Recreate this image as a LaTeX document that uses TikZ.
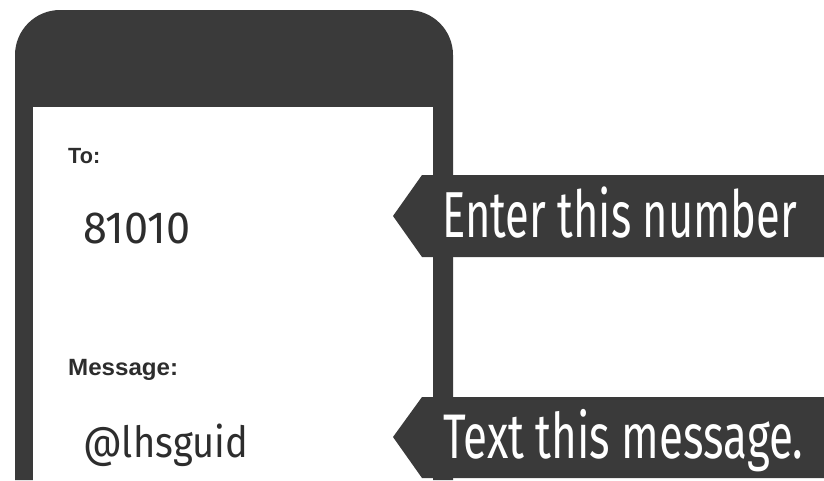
\documentclass[tikz,border=0pt]{standalone}
\usepackage{fontspec}
\usepackage{graphicx}
\setmainfont{Fira Sans}
\newfontfamily\labelfont{Liberation Sans}
\definecolor{phonegray}{RGB}{58,58,58}
\definecolor{ink}{RGB}{45,45,45}
\tikzset{
  txt/.style={anchor=base west, inner sep=0pt, text=ink},
  bannertxt/.style={anchor=base west, inner sep=0pt, text=white},
  bannerfill/.style={fill=phonegray}
}
\begin{document}
\begin{tikzpicture}[x=1pt,y=-1pt]
\useasboundingbox (0,0) rectangle (824,480);
% phone frame
\fill[phonegray] (15,480) [rounded corners=45pt] -- (15,10) -- (453,10) [sharp corners] -- (453,480) -- cycle;
\fill[white] (33,107) rectangle (433,481);
% screen texts
\node[txt] (to) at (68,163) {\resizebox{32pt}{\height}{\labelfont\bfseries\fontsize{22}{22}\selectfont To:}};
\node[txt] (num) at (83,243) {\resizebox{107pt}{\height}{\fontsize{45}{45}\selectfont 81010}};
\node[txt] (msg) at (68,375) {\resizebox{110pt}{\height}{\labelfont\bfseries\fontsize{23.5}{23.5}\selectfont Message:}};
\node[txt] (handle) at (83,457) {\resizebox{165pt}{\height}{\fontsize{43}{43}\selectfont @lhsguid}};
% banners
\fill[bannerfill] (824,175) -- (422,175) -- (393,216) -- (422,257) -- (824,257) -- cycle;
\fill[bannerfill] (824,397) -- (422,397) -- (393,437) -- (422,478) -- (824,478) -- cycle;
\node[bannertxt] (b1) at (442,237) {\resizebox{355pt}{\height}{\fontsize{65}{65}\selectfont Enter this number}};
\node[bannertxt] (b2) at (443,458) {\resizebox{360pt}{\height}{\fontsize{63}{63}\selectfont Text this message.}};
\end{tikzpicture}
\end{document}
